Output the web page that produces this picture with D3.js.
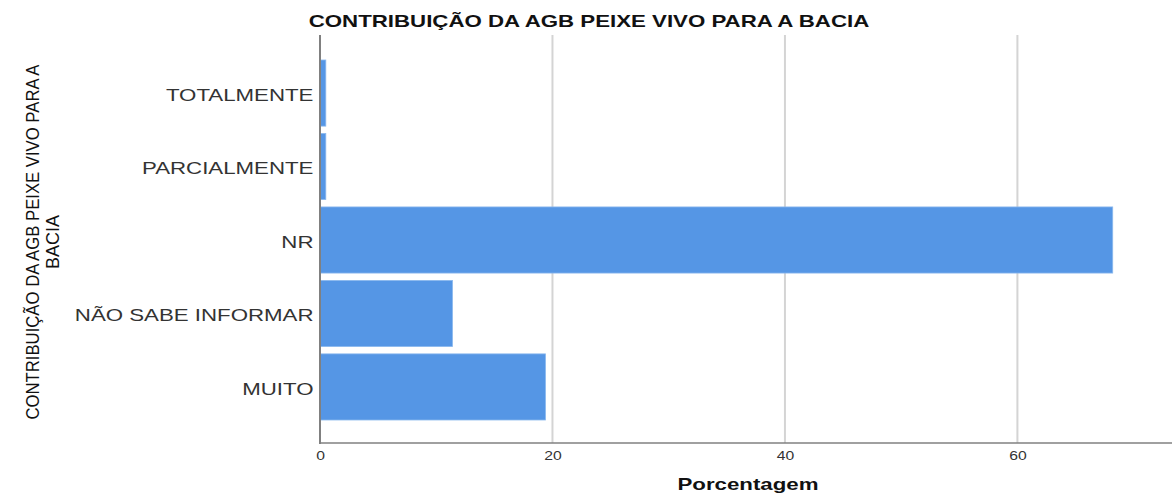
<!DOCTYPE html>
<html>
<head>
<meta charset="utf-8">
<script src="https://cdn.jsdelivr.net/npm/d3@7"></script>
<style>
	body { margin: 0; background: #fff; }
	svg text { font-family: "Liberation Sans", Arial, sans-serif; }
</style>
</head>
<body>
<svg id="chart" width="1175" height="495"></svg>
<script>
var categories = ['TOTALMENTE', 'PARCIALMENTE', 'NR', 'NÃO SABE INFORMAR', 'MUITO'];
var values = [0.5, 0.5, 68.2, 11.4, 19.4];
var ticks = [0, 20, 40, 60];

// the source picture is stretched sideways, so horizontal text gets scaleX
var stretch = 'scale(1.31,1)';

var chart = {
	left: 320,
	right: 1172,
	top: 35,
	bottom: 443,
	draw: function() {
		var svg = d3.select('#chart');

		var x = d3.scaleLinear()
			.domain([0, 73.3])
			.range([chart.left, chart.right]);

		var y = d3.scaleBand()
			.domain(categories)
			.range([60, 420])
			.paddingInner(0.1);

		// grid lines
		svg.append('g').selectAll('line')
			.data(ticks.filter(function(t) { return t > 0; }))
			.enter().append('line')
			.attr('x1', function(d) { return x(d); })
			.attr('x2', function(d) { return x(d); })
			.attr('y1', chart.top)
			.attr('y2', chart.bottom)
			.attr('stroke', '#d4d4d4')
			.attr('stroke-width', 2);

		// bars
		svg.append('g').selectAll('rect')
			.data(values)
			.enter().append('rect')
			.attr('x', x(0))
			.attr('y', function(d, i) { return y(categories[i]); })
			.attr('width', function(d) { return x(d) - x(0); })
			.attr('height', y.bandwidth())
			.attr('fill', '#5596e5')
			.attr('stroke', '#8bb8ee')
			.attr('stroke-width', 0.8);

		// x axis
		var xAxis = svg.append('g')
			.attr('transform', 'translate(0,' + chart.bottom + ')')
			.call(d3.axisBottom(x).tickValues(ticks).tickSize(0).tickPadding(8));
		xAxis.select('.domain').remove();
		xAxis.selectAll('text')
			.attr('font-size', 12)
			.attr('fill', '#333')
			.attr('transform', stretch);

		svg.append('line')
			.attr('x1', chart.left).attr('x2', chart.right)
			.attr('y1', chart.bottom).attr('y2', chart.bottom)
			.attr('stroke', '#808080').attr('stroke-width', 1.5);

		// y axis
		var yAxis = svg.append('g')
			.attr('transform', 'translate(' + chart.left + ',0)')
			.call(d3.axisLeft(y).tickSize(0).tickPadding(5));
		yAxis.select('.domain').remove();
		yAxis.selectAll('text')
			.attr('font-size', 17)
			.attr('dy', '0.45em')
			.attr('fill', '#333')
			.attr('transform', stretch);

		svg.append('line')
			.attr('x1', chart.left).attr('x2', chart.left)
			.attr('y1', chart.top).attr('y2', chart.bottom + 1)
			.attr('stroke', '#808080').attr('stroke-width', 2);

		// titles
		svg.append('text')
			.attr('transform', 'translate(589,27) ' + stretch)
			.attr('text-anchor', 'middle')
			.attr('font-size', 17)
			.attr('font-weight', 'bold')
			.attr('fill', '#111')
			.text('CONTRIBUIÇÃO DA AGB PEIXE VIVO PARA A BACIA');

		svg.append('text')
			.attr('transform', 'translate(748,490) ' + stretch)
			.attr('text-anchor', 'middle')
			.attr('font-size', 17)
			.attr('font-weight', 'bold')
			.attr('fill', '#111')
			.text('Porcentagem');

		// rotated title: squeezed along its length like the source
		var yt = svg.append('text')
			.attr('transform', 'translate(39,242) rotate(-90)')
			.attr('text-anchor', 'middle')
			.attr('font-size', 18)
			.attr('fill', '#111');
		yt.append('tspan').attr('x', 0).attr('dy', 0)
			.attr('textLength', 355).attr('lengthAdjust', 'spacingAndGlyphs')
			.text('CONTRIBUIÇÃO DA AGB PEIXE VIVO PARA A');
		yt.append('tspan').attr('x', 0).attr('dy', 20).text('BACIA');
	}
};

chart.draw();
</script>
</body>
</html>
